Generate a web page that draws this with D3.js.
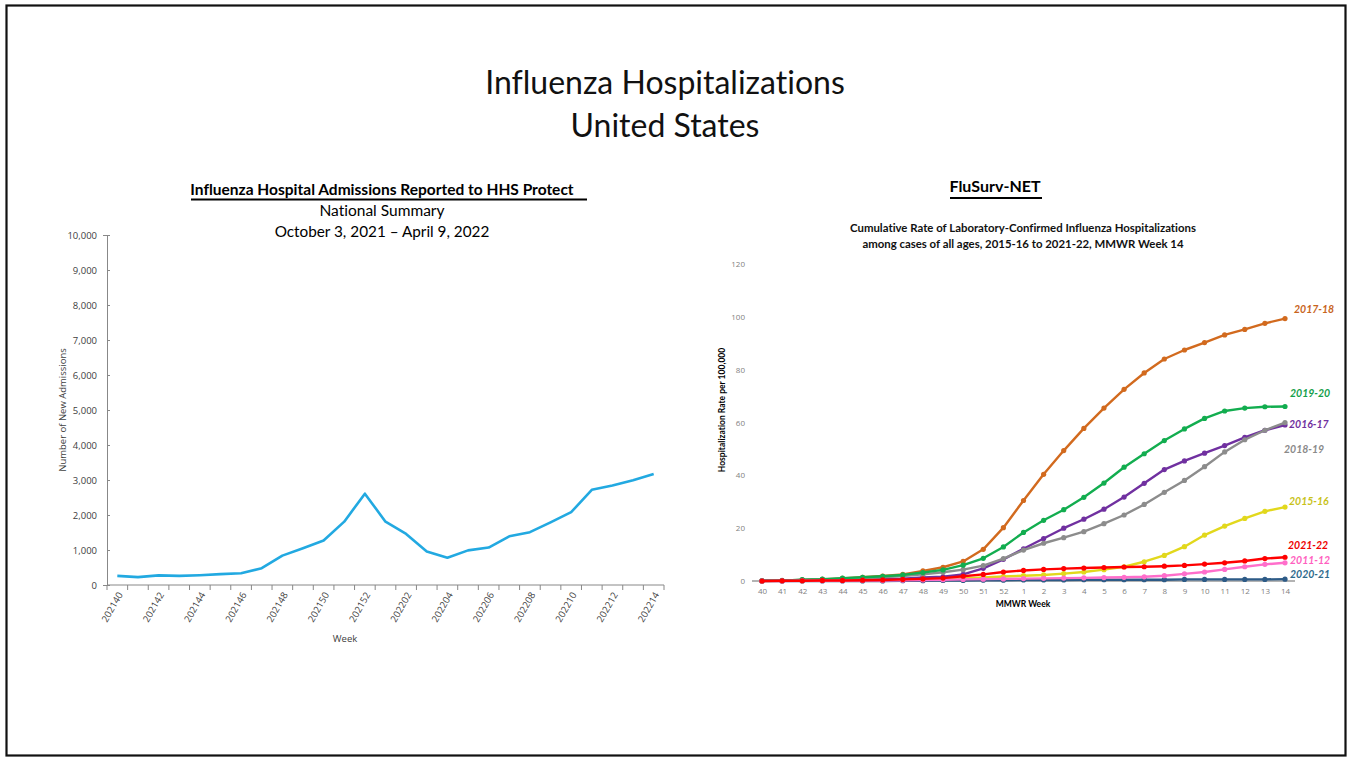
<!DOCTYPE html>
<html>
<head>
<meta charset="utf-8">
<script src="https://cdn.jsdelivr.net/npm/d3@7"></script>
<style>
  body { margin: 0; background: #fff; }
  svg { display: block; }
  text { font-variant-ligatures: none; }
</style>
</head>
<body>
<svg id="chart" width="1350" height="757"></svg>
<script>
// HHS Protect weekly admissions
const hhsWeeks = ['202140','202141','202142','202143','202144','202145','202146','202147','202148','202149','202150','202151','202152',
  '202201','202202','202203','202204','202205','202206','202207','202208','202209','202210','202211','202212','202213','202214'];
const hhsAdmissions = [260, 225, 275, 260, 280, 310, 335, 480, 840, 1050, 1270, 1810, 2610,
  1810, 1460, 960, 780, 990, 1070, 1390, 1510, 1790, 2080, 2720, 2840, 2990, 3170];
const hhsYTicks = [0, 1000, 2000, 3000, 4000, 5000, 6000, 7000, 8000, 9000, 10000];

// FluSurv-NET cumulative rates, MMWR week 40 .. week 14
const mmwrWeeks = ['40','41','42','43','44','45','46','47','48','49','50','51','52',
  '1','2','3','4','5','6','7','8','9','10','11','12','13','14'];
const seasonNames = ['2015-16', '2016-17', '2017-18', '2018-19', '2019-20', '2020-21', '2011-12', '2021-22'];
const rate1516 = [0, 0.1, 0.1, 0.2, 0.2, 0.3, 0.4, 0.5, 0.6, 0.8, 1.0, 1.3, 1.7, 2.0, 2.3, 2.8, 3.4, 4.3, 5.4, 7.3, 9.7, 13.0, 17.4, 20.8, 23.7, 26.4, 28.0];
const rate1617 = [0.1, 0.1, 0.2, 0.3, 0.4, 0.5, 0.7, 0.9, 1.3, 1.6, 2.5, 4.8, 8.2, 12.2, 16.1, 20.0, 23.4, 27.2, 31.8, 37.0, 42.2, 45.5, 48.4, 51.3, 54.4, 57.1, 59.1];
const rate1718 = [0.1, 0.1, 0.4, 0.6, 1.0, 1.4, 1.9, 2.5, 3.8, 5.2, 7.4, 12.0, 20.2, 30.5, 40.4, 49.4, 57.8, 65.5, 72.6, 78.8, 84.1, 87.5, 90.3, 93.2, 95.3, 97.6, 99.4];
const rate1819 = [0.1, 0.2, 0.4, 0.6, 0.8, 1.0, 1.4, 1.9, 2.5, 3.3, 4.3, 5.8, 8.5, 11.7, 14.3, 16.4, 18.7, 21.7, 25.0, 29.0, 33.6, 38.1, 43.3, 48.9, 53.5, 57.1, 60.0];
const rate1920 = [0.1, 0.1, 0.5, 0.7, 1.1, 1.4, 1.8, 2.3, 3.2, 4.2, 6.0, 8.6, 12.9, 18.4, 23.0, 27.0, 31.7, 37.1, 43.1, 48.2, 53.2, 57.6, 61.6, 64.4, 65.5, 66.0, 66.1];
const rate2021 = [0, 0, 0, 0, 0, 0, 0, 0.1, 0.1, 0.2, 0.2, 0.3, 0.3, 0.4, 0.4, 0.4, 0.5, 0.5, 0.5, 0.5, 0.5, 0.6, 0.6, 0.6, 0.6, 0.6, 0.7];
const rate1112 = [0, 0, 0.1, 0.1, 0.1, 0.2, 0.2, 0.3, 0.4, 0.5, 0.6, 0.7, 0.8, 0.9, 1.0, 1.1, 1.2, 1.3, 1.4, 1.6, 2.0, 2.7, 3.4, 4.4, 5.4, 6.3, 6.9];
const rate2122 = [0, 0.1, 0.1, 0.2, 0.2, 0.3, 0.4, 0.6, 0.8, 1.1, 1.8, 2.5, 3.4, 4.0, 4.4, 4.7, 4.9, 5.1, 5.3, 5.4, 5.6, 5.9, 6.4, 6.9, 7.6, 8.5, 9.0];
const rateYTicks = [0, 20, 40, 60, 80, 100, 120];

// colours per season (line, label)
const lineColors  = ['#e2d81c', '#7030a0', '#d26a1e', '#8c8c8c', '#12ad4f', '#2d5b87', '#ff6ecb', '#ff0000'];
const labelColors = ['#c8c21a', '#7030a0', '#c8641c', '#8a8a8a', '#12a04a', '#2e6a8c', '#ff5fc0', '#ee0000'];
// label nudges from the last point, px [dx, dy]
const labelNudge = [[4, -6], [4, -1], [9, -9], [-1, 27], [5, -13], [5, -5], [5, -2], [3, -12]];

const svg = d3.select('#chart');
const titleFont = 'Lato, "Open Sans", sans-serif';
const tickFont = '"Open Sans", "Noto Sans", sans-serif';

// frame
svg.append('rect')
  .attr('x', 6.5).attr('y', 5.5)
  .attr('width', 1339).attr('height', 750)
  .attr('fill', 'none')
  .attr('stroke', '#111')
  .attr('stroke-width', 2.2);

// main title
const mainTitle = svg.append('text')
  .attr('text-anchor', 'middle')
  .attr('font-family', titleFont)
  .attr('font-size', 32)
  .attr('fill', '#111');
mainTitle.append('tspan').attr('x', 665).attr('y', 94).text('Influenza Hospitalizations');
mainTitle.append('tspan').attr('x', 665).attr('y', 137).text('United States');

// ---------- left chart: HHS Protect ----------
const left = svg.append('g').attr('class', 'hhs');

left.append('text')
  .attr('x', 382).attr('y', 195)
  .attr('text-anchor', 'middle')
  .attr('font-family', titleFont)
  .attr('font-weight', 'bold')
  .attr('font-size', 15.5)
  .text('Influenza Hospital Admissions Reported to HHS Protect');
left.append('line')
  .attr('x1', 191).attr('x2', 587)
  .attr('y1', 199.5).attr('y2', 199.5)
  .attr('stroke', '#000').attr('stroke-width', 2);
left.append('text')
  .attr('x', 382).attr('y', 216)
  .attr('text-anchor', 'middle')
  .attr('font-family', titleFont)
  .attr('font-size', 15.5)
  .text('National Summary');
left.append('text')
  .attr('x', 382).attr('y', 237)
  .attr('text-anchor', 'middle')
  .attr('font-family', titleFont)
  .attr('font-size', 15.3)
  .text('October 3, 2021 \u2013 April 9, 2022');

const hx = d3.scaleBand().domain(hhsWeeks).range([107, 664]);
const hy = d3.scaleLinear().domain([0, 10000]).range([585, 235]);

// y axis
left.append('g')
  .attr('transform', 'translate(107,0)')
  .call(d3.axisLeft(hy).tickValues(hhsYTicks).tickFormat(d3.format(',')).tickSize(4).tickPadding(6))
  .call(g => {
    g.select('.domain').attr('stroke', '#888');
    g.selectAll('.tick line').attr('stroke', '#888').attr('x2', 3);
    g.selectAll('.tick text')
      .attr('fill', '#404040')
      .attr('font-family', tickFont)
      .attr('font-size', 9.5);
  });

// x axis: ticks between categories, labels every other week
const hxAxis = left.append('g').attr('transform', 'translate(0,585)');
hxAxis.append('line')
  .attr('x1', 107).attr('x2', 664)
  .attr('stroke', '#888');
hxAxis.selectAll('.tick-mark')
  .data(hhsWeeks.concat(['end']))
  .enter().append('line')
  .attr('class', 'tick-mark')
  .attr('x1', d => d === 'end' ? hx.range()[1] : hx(d))
  .attr('x2', d => d === 'end' ? hx.range()[1] : hx(d))
  .attr('y1', 0).attr('y2', 5)
  .attr('stroke', '#888');
hxAxis.selectAll('.tick-label')
  .data(hhsWeeks.filter((d, i) => i % 2 === 0))
  .enter().append('text')
  .attr('class', 'tick-label')
  .attr('transform', d => `translate(${hx(d) + hx.bandwidth() / 2 + 3},${8}) rotate(-60)`)
  .attr('text-anchor', 'end')
  .attr('dy', '0.35em')
  .attr('fill', '#404040')
  .attr('font-family', tickFont)
  .attr('font-size', 9.5)
  .text(d => d);

left.append('text')
  .attr('transform', 'translate(66,410) rotate(-90)')
  .attr('text-anchor', 'middle')
  .attr('font-family', tickFont)
  .attr('font-size', 9.5)
  .attr('fill', '#404040')
  .text('Number of New Admissions');
left.append('text')
  .attr('x', 345).attr('y', 642)
  .attr('text-anchor', 'middle')
  .attr('font-family', tickFont)
  .attr('font-size', 9.5)
  .attr('fill', '#404040')
  .text('Week');

const hhsLine = d3.line()
  .x((d, i) => hx(hhsWeeks[i]) + hx.bandwidth() / 2)
  .y(d => hy(d));
left.append('path')
  .datum(hhsAdmissions)
  .attr('d', hhsLine)
  .attr('fill', 'none')
  .attr('stroke', '#22a9e1')
  .attr('stroke-width', 2.6)
  .attr('stroke-linejoin', 'round');

// ---------- right chart: FluSurv-NET ----------
const right = svg.append('g').attr('class', 'flusurv');

right.append('text')
  .attr('x', 995).attr('y', 192)
  .attr('text-anchor', 'middle')
  .attr('font-family', titleFont)
  .attr('font-weight', 'bold')
  .attr('font-size', 16)
  .text('FluSurv-NET');
right.append('line')
  .attr('x1', 950).attr('x2', 1042)
  .attr('y1', 198).attr('y2', 198)
  .attr('stroke', '#000').attr('stroke-width', 2);

const subTitle = right.append('text')
  .attr('text-anchor', 'middle')
  .attr('font-family', titleFont)
  .attr('font-weight', 'bold')
  .attr('font-size', 11.4)
  .attr('fill', '#111');
subTitle.append('tspan').attr('x', 1023).attr('y', 232).text('Cumulative Rate of Laboratory-Confirmed Influenza Hospitalizations');
subTitle.append('tspan').attr('x', 1023).attr('y', 248).text('among cases of all ages, 2015-16 to 2021-22, MMWR  Week 14');

const rx = d3.scalePoint().domain(mmwrWeeks).range([762, 1285]);
const ry = d3.scaleLinear().domain([0, 120]).range([581, 264.2]);

right.append('g')
  .attr('transform', 'translate(752,0)')
  .call(d3.axisLeft(ry).tickValues(rateYTicks).tickSize(0).tickPadding(7))
  .call(g => {
    g.select('.domain').remove();
    g.selectAll('.tick text')
      .attr('fill', '#7f7f7f')
      .attr('font-family', tickFont)
      .attr('font-size', 8);
  });

right.append('g')
  .attr('transform', 'translate(0,581)')
  .call(d3.axisBottom(rx).tickSize(0).tickPadding(7))
  .call(g => {
    g.select('.domain').attr('d', 'M752,0H1295').attr('stroke', '#b3b3b3').attr('stroke-width', 2);
    g.selectAll('.tick text')
      .attr('fill', '#7f7f7f')
      .attr('font-family', tickFont)
      .attr('font-size', 8);
  });

right.append('text')
  .attr('transform', 'translate(725,410) rotate(-90)')
  .attr('text-anchor', 'middle')
  .attr('font-family', titleFont)
  .attr('font-weight', 'bold')
  .attr('font-size', 8.5)
  .text('Hospitalization  Rate per 100,000');
right.append('text')
  .attr('x', 1023).attr('y', 607)
  .attr('text-anchor', 'middle')
  .attr('font-family', titleFont)
  .attr('font-weight', 'bold')
  .attr('font-size', 8.5)
  .text('MMWR Week');

const seasons = [rate1516, rate1617, rate1718, rate1819, rate1920, rate2021, rate1112, rate2122]
  .map((values, k) => ({ name: seasonNames[k], values, line: lineColors[k], label: labelColors[k], nudge: labelNudge[k] }));

const rateLine = d3.line()
  .x((d, i) => rx(mmwrWeeks[i]))
  .y(d => ry(d));

const seriesG = right.selectAll('.season')
  .data(seasons)
  .enter().append('g')
  .attr('class', 'season');

seriesG.append('path')
  .attr('d', d => rateLine(d.values))
  .attr('fill', 'none')
  .attr('stroke', d => d.line)
  .attr('stroke-width', 2.4)
  .attr('stroke-linejoin', 'round');

seriesG.selectAll('circle')
  .data(d => d.values.map((v, i) => ({ v, i, color: d.line })))
  .enter().append('circle')
  .attr('cx', p => rx(mmwrWeeks[p.i]))
  .attr('cy', p => ry(p.v))
  .attr('r', 2.6)
  .attr('fill', p => p.color);

seriesG.append('text')
  .attr('x', d => rx(mmwrWeeks[mmwrWeeks.length - 1]) + d.nudge[0])
  .attr('y', d => ry(d.values[d.values.length - 1]) + d.nudge[1])
  .attr('dy', '0.35em')
  .attr('font-family', titleFont)
  .attr('font-weight', 'bold')
  .attr('font-style', 'italic')
  .attr('font-size', 10.5)
  .attr('fill', d => d.label)
  .text(d => d.name);
</script>
</body>
</html>
